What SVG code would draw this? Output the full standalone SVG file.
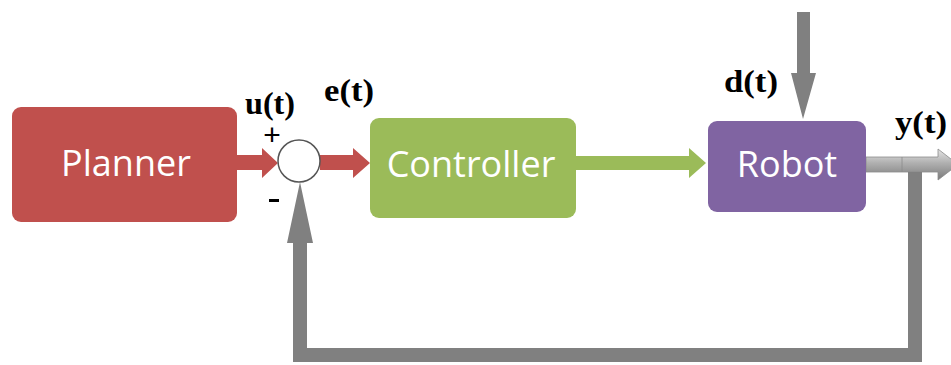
<svg xmlns="http://www.w3.org/2000/svg" width="951" height="365" viewBox="0 0 951 365">
<style>
.box{stroke:none}
.lbl{font-family:"Open Sans","Noto Sans",sans-serif;font-size:36px;fill:#ffffff;text-anchor:middle}
.sig{font-family:"Liberation Serif","Times New Roman",serif;font-size:31px;font-weight:bold;fill:#000;text-anchor:middle}
.sign{font-family:"Liberation Sans",Arial,sans-serif;font-size:30px;fill:#000;text-anchor:middle}
.red{fill:#C0504D}
.green{fill:#9BBB59}
.gray{fill:#808080}
</style>
<defs>
<linearGradient id="yg" x1="0" y1="0" x2="0" y2="1">
<stop offset="0" stop-color="#e6e6e6"/>
<stop offset="0.45" stop-color="#b0b0b0"/>
<stop offset="1" stop-color="#7a7a7a"/>
</linearGradient>
</defs>
<rect width="951" height="365" fill="#ffffff"/>
<g id="connectors">
<polygon class="red" points="237,155 262,155 262,148 278,163 262,178 262,170 237,170"/>
<polygon class="red" points="320,155 353,155 353,148 370,163 353,178 353,170 320,170"/>
<polygon class="green" points="576,156 689,156 689,148 706,163 689,178 689,170 576,170"/>
<polygon class="gray" points="797,12 810,12 810,73 816,73 803,119 791,73 797,73"/>
<polygon fill="url(#yg)" stroke="#8a8a8a" stroke-width="0.8" points="866,157 938,157 938,149 958,164.5 938,180 938,172 866,172"/>
<line x1="902" y1="157" x2="902" y2="172" stroke="#8a8a8a" stroke-width="0.8"/>
<polygon class="gray" points="908,172 922,172 922,362 293,362 293,243 287,243 300,182 313,243 307,243 307,348 908,348"/>
</g>
<g id="planner">
<rect class="box red" x="12" y="107" width="225" height="115" rx="9"/>
<text class="lbl" x="126" y="176">Planner</text>
</g>
<g id="sum">
<circle cx="299" cy="161" r="21" fill="#ffffff" stroke="#555555" stroke-width="1.5"/>
<text class="sign" x="272" y="145">+</text>
<rect x="269" y="199" width="10" height="3" fill="#000"/>
</g>
<g id="controller">
<rect class="box green" x="370" y="118" width="206" height="100" rx="9"/>
<text class="lbl" x="471" y="177">Controller</text>
</g>
<g id="robot">
<rect class="box" fill="#8064A2" x="708" y="121" width="158" height="91" rx="9"/>
<text class="lbl" x="787" y="177">Robot</text>
</g>
<g id="labels">
<text class="sig" x="270" y="114" textLength="50" lengthAdjust="spacingAndGlyphs">u(t)</text>
<text class="sig" x="349" y="101" textLength="50" lengthAdjust="spacingAndGlyphs">e(t)</text>
<text class="sig" x="751" y="92" textLength="54" lengthAdjust="spacingAndGlyphs">d(t)</text>
<text class="sig" x="921" y="133" textLength="52" lengthAdjust="spacingAndGlyphs">y(t)</text>
</g>
</svg>
